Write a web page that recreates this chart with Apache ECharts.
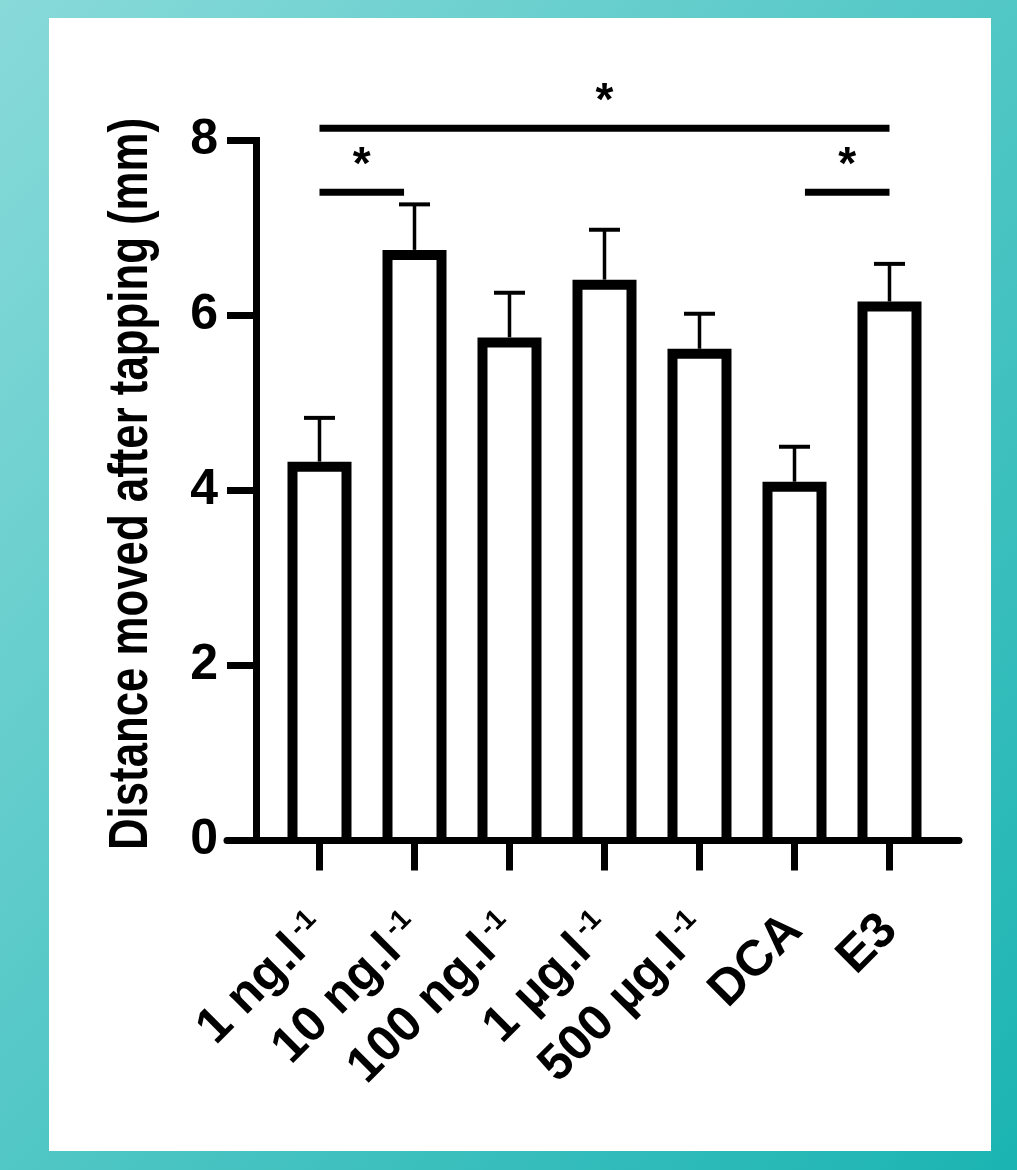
<!DOCTYPE html>
<html>
<head>
<meta charset="utf-8">
<script src="https://cdn.jsdelivr.net/npm/echarts@6/dist/echarts.min.js"></script>
<style>
    html, body { margin: 0; padding: 0; }
    body {
        width: 1017px; height: 1170px; position: relative; overflow: hidden;
        background: linear-gradient(to bottom right, #88dad9, #1bb4b2);
    }
    #panel { position: absolute; left: 49px; top: 18px; width: 942px; height: 1133px; background: #fff; }
    #chart { position: absolute; left: 0; top: 0; width: 1017px; height: 1170px; }
</style>
</head>
<body>
<div id="panel"></div>
<div id="chart"></div>
<script>
// Data
const categories = ['1 ng.l', '10 ng.l', '100 ng.l', '1 µg.l', '500 µg.l', 'DCA', 'E3']
const superscripts = ['-1', '-1', '-1', '-1', '-1', '', '']
const means = [4.33, 6.75, 5.75, 6.41, 5.62, 4.10, 6.16]
const sems = [0.50, 0.52, 0.51, 0.57, 0.40, 0.40, 0.43]
const yTicks = [0, 2, 4, 6, 8]
// significance brackets: [from category, to category, height]
const brackets = [[0, 6, 8.14], [0, 0.89, 7.41], [5.11, 6, 7.41]]
const bracketLabels = ['*', '*', '*']
const yTitle = 'Distance moved after tapping (mm)'

const FONT = "'Liberation Sans', Arial, Helvetica, sans-serif"
const BAR_OUTER = 64
const BAR_BORDER = 10
const catIdx = categories.map((c, i) => i)

// The y title is a tall, condensed bold face: use a narrow font when there is one
// and squeeze it to the length it has in the figure.
const TITLE_SIZE = 56
const TITLE_LEN = 732
const titleFont = "'Liberation Sans Narrow', " + FONT
const ctx = document.createElement('canvas').getContext('2d')
ctx.font = 'bold ' + TITLE_SIZE + 'px ' + titleFont
const titleScale = Math.min(1, TITLE_LEN / ctx.measureText(yTitle).width)

const chart = echarts.init(document.getElementById('chart'))

chart.setOption({
    animation: false,
    textStyle: { fontFamily: FONT },
    grid: { left: 227, right: 58, top: 140.5, bottom: 329.5 },
    graphic: [{
        type: 'text',
        x: 132,
        y: 484,
        rotation: Math.PI / 2,
        scaleX: titleScale,
        style: {
            text: yTitle,
            align: 'center',
            verticalAlign: 'middle',
            fontSize: TITLE_SIZE,
            fontWeight: 'bold',
            fontFamily: titleFont,
            fill: '#000'
        }
    }],
    xAxis: {
        type: 'value',
        min: -0.9737,
        max: 6.7316,
        splitLine: { show: false },
        axisLine: { onZero: false, lineStyle: { color: '#000', width: 7 } },
        axisTick: { show: true, customValues: catIdx, length: 30, lineStyle: { color: '#000', width: 7 } },
        axisLabel: {
            customValues: catIdx,
            showMinLabel: true,
            showMaxLabel: true,
            rotate: 45,
            margin: 82,
            color: '#000',
            fontSize: 50,
            fontWeight: 'bold',
            fontFamily: FONT,
            formatter: (v) => {
                const i = Math.round(v)
                const sup = superscripts[i]
                return '{m|' + categories[i] + '}' + (sup ? '{s|' + sup + '}' : '')
            },
            rich: {
                m: { fontSize: 50, fontWeight: 'bold', color: '#000', fontFamily: FONT },
                s: { fontSize: 28, lineHeight: 2, fontWeight: 'bold', color: '#000', fontFamily: FONT, verticalAlign: 'top', padding: [0, 0, 0, 5] }
            }
        }
    },
    yAxis: {
        type: 'value',
        min: 0,
        max: 8,
        offset: -29,
        splitLine: { show: false },
        axisLine: { show: true, onZero: false, lineStyle: { color: '#000', width: 7, cap: 'square' } },
        axisTick: { show: true, customValues: yTicks, length: 29, lineStyle: { color: '#000', width: 7 } },
        axisLabel: {
            customValues: yTicks,
            showMinLabel: true,
            showMaxLabel: true,
            margin: 38,
            color: '#000',
            fontSize: 50,
            fontWeight: 'bold',
            fontFamily: FONT
        }
    },
    series: [
        {
            // error bars (upper arm only)
            type: 'custom',
            z: 1,
            clip: false,
            data: means.map((m, i) => [i, m, sems[i]]),
            renderItem: (params, api) => {
                const x = api.value(0)
                const m = api.value(1)
                const e = api.value(2)
                const base = api.coord([x, m])
                const top = api.coord([x, m + e])
                return {
                    type: 'group',
                    children: [
                        { type: 'line', shape: { x1: base[0], y1: base[1], x2: top[0], y2: top[1] }, style: { stroke: '#000', lineWidth: 3.5 } },
                        { type: 'line', shape: { x1: top[0] - 15.5, y1: top[1], x2: top[0] + 15.5, y2: top[1] }, style: { stroke: '#000', lineWidth: 4 } }
                    ]
                }
            }
        },
        {
            // open-bottomed bars, outline only
            type: 'custom',
            z: 3,
            clip: false,
            data: means.map((m, i) => [i, m]),
            renderItem: (params, api) => {
                const top = api.coord([api.value(0), api.value(1)])
                const zero = api.coord([api.value(0), 0])
                const half = (BAR_OUTER - BAR_BORDER) / 2
                const yTop = top[1] + BAR_BORDER / 2
                return {
                    type: 'polyline',
                    shape: {
                        points: [
                            [top[0] - half, zero[1]],
                            [top[0] - half, yTop],
                            [top[0] + half, yTop],
                            [top[0] + half, zero[1]]
                        ]
                    },
                    style: { stroke: '#000', lineWidth: BAR_BORDER, fill: 'none', lineJoin: 'miter' }
                }
            }
        },
        {
            // significance brackets
            type: 'custom',
            z: 4,
            clip: false,
            data: brackets,
            renderItem: (params, api) => {
                const a = api.coord([api.value(0), api.value(2)])
                const b = api.coord([api.value(1), api.value(2)])
                return {
                    type: 'group',
                    children: [
                        { type: 'line', shape: { x1: a[0], y1: a[1], x2: b[0], y2: b[1] }, style: { stroke: '#000', lineWidth: 7 } },
                        {
                            type: 'text',
                            style: {
                                text: bracketLabels[params.dataIndex],
                                x: (a[0] + b[0]) / 2,
                                y: a[1] - 26,
                                align: 'center',
                                verticalAlign: 'middle',
                                fontSize: 46,
                                fontWeight: 'bold',
                                fontFamily: FONT,
                                fill: '#000'
                            }
                        }
                    ]
                }
            }
        }
    ]
})
</script>
</body>
</html>
